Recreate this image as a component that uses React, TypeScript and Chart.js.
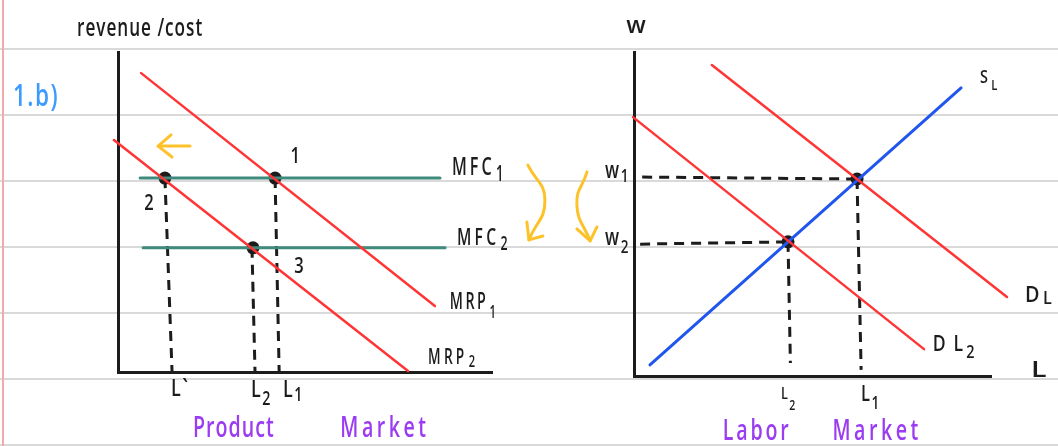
import React, { useEffect, useRef } from "react";
import { Chart, registerables } from "chart.js";

Chart.register(...registerables);

// ---------- Product market (left panel) ----------
// x: quantity of labour, y: revenue / cost
const mrp1X = [0.68, 9.32];
const mrp1Y = [9.34, 2.06];
const mrp2X = [-0.12, 8.53];
const mrp2Y = [7.25, 0.03];
const mfc1X = [0.65, 9.47];
const mfc1Y = [6.06, 6.06];
const mfc2X = [0.74, 9.62];
const mfc2Y = [3.88, 3.88];
const productPointsX = [4.62, 1.38, 3.97]; // points 1, 2, 3
const productPointsY = [6.06, 6.06, 3.88];
const lPrimeX = [1.38, 1.59];
const lPrimeY = [6.06, 0];
const l2ProductX = [3.94, 4.03];
const l2ProductY = [3.88, 0];
const l1ProductX = [4.62, 4.74];
const l1ProductY = [6.06, 0];
const shiftShaftX = [2.12, 1.18];
const shiftShaftY = [7.06, 7.06];
const shiftHeadX = [1.56, 1.18, 1.59];
const shiftHeadY = [7.41, 7.06, 6.72];

// ---------- Labour market (right panel) ----------
// x: quantity of labour, y: wage
const dlX = [2.29, 10.97];
const dlY = [9.6, 2.44];
const dl2X = [-0.03, 8.53];
const dl2Y = [7.99, 0.83];
const slX = [0.47, 9.62];
const slY = [0.34, 8.89];
const labourPointsX = [6.56, 4.53];
const labourPointsY = [6.08, 4.14];
const w1GuideX = [0.24, 6.56];
const w1GuideY = [6.14, 6.08];
const w2GuideX = [0.18, 4.53];
const w2GuideY = [4.07, 4.14];
const l2LabourX = [4.53, 4.6];
const l2LabourY = [4.14, 0.4];
const l1LabourX = [6.56, 6.68];
const l1LabourY = [6.08, 0.19];
const mfcArrowX = [-3.12, -2.62, -3.09];
const mfcArrowY = [6.51, 5.43, 4.2];
const mfcHeadX = [-2.68, -3.09, -3.15];
const mfcHeadY = [4.32, 4.2, 4.75];
const wageArrowX = [-1.38, -1.68, -1.29];
const wageArrowY = [6.3, 5.28, 4.17];
const wageHeadX = [-1.09, -1.29, -1.68];
const wageHeadY = [4.6, 4.17, 4.54];

const INK = "#1c1c1c";
const RED = "#ff3434";
const BLUE = "#2156ee";
const TEAL = "#3e8a7c";
const YELLOW = "#fdc22a";
const PURPLE = "#9b3cf3";
const NOTE_BLUE = "#3d9bff";

type Label = {
  text: string;
  sub?: string;
  x: number;
  y: number;
  size?: number;
  color?: string;
  align?: "left" | "center";
  spacing?: number;
  sx?: number;
  subDy?: number;
  weight?: number;
};

const productLabels: Label[] = [
  { text: "revenue /cost", x: 0.65, y: 10.72, size: 26, align: "center", spacing: 1.5, sx: 0.66 },
  { text: "1.b)", x: -2.41, y: 8.59, size: 30, color: NOTE_BLUE, align: "center", spacing: 2, sx: 0.75 },
  { text: "1", x: 5.21, y: 6.72, size: 22, align: "center" },
  { text: "2", x: 0.91, y: 5.25, size: 22, align: "center" },
  { text: "3", x: 5.32, y: 3.28, size: 22, align: "center" },
  { text: "MFC", sub: "1", x: 9.82, y: 6.38, size: 26, spacing: 5, sx: 0.62 },
  { text: "MFC", sub: "2", x: 9.97, y: 4.19, size: 24, spacing: 5, sx: 0.65 },
  { text: "MRP", sub: "1", x: 9.76, y: 2.16, size: 23, spacing: 4, sx: 0.62, subDy: 10 },
  { text: "MRP", sub: "2", x: 9.12, y: 0.44, size: 21, spacing: 5, sx: 0.65, subDy: 4 },
  { text: "L`", x: 1.56, y: -0.53, size: 24, spacing: 2 },
  { text: "L", sub: "2", x: 3.91, y: -0.56, size: 24, subDy: 10 },
  { text: "L", sub: "1", x: 4.85, y: -0.56, size: 24, subDy: 6 },
  { text: "Product", x: 3.41, y: -1.78, size: 28, color: PURPLE, align: "center", spacing: 1.5, sx: 0.7 },
  { text: "Market", x: 7.85, y: -1.78, size: 28, color: PURPLE, align: "center", spacing: 5, sx: 0.7 },
];

const labourLabels: Label[] = [
  { text: "w", x: 0.06, y: 10.8, size: 24, align: "center", sx: 1 },
  { text: "w", sub: "1", x: -0.85, y: 6.3, size: 23, sx: 0.75, subDy: 5 },
  { text: "w", sub: "2", x: -0.85, y: 4.26, size: 23, sx: 0.75, subDy: 10 },
  { text: "S", sub: "L", x: 10.18, y: 9.2, size: 18, spacing: 2, sx: 0.8, subDy: 8 },
  { text: "D", sub: "L", x: 11.5, y: 2.47, size: 22, spacing: 2, sx: 0.9, subDy: 3 },
  { text: "D L", sub: "2", x: 8.79, y: 0.96, size: 22, spacing: 2, sx: 0.8, subDy: 8 },
  { text: "L", x: 11.68, y: 0.15, size: 22, sx: 1.3 },
  { text: "L", sub: "2", x: 4.32, y: -0.56, size: 17, subDy: 12 },
  { text: "L", sub: "1", x: 6.68, y: -0.59, size: 22, subDy: 9 },
  { text: "Labor", x: 3.62, y: -1.73, size: 28, color: PURPLE, align: "center", spacing: 4, sx: 0.7 },
  { text: "Market", x: 7.15, y: -1.73, size: 28, color: PURPLE, align: "center", spacing: 5, sx: 0.7 },
];

const pts = (xs: number[], ys: number[]) => xs.map((x, i) => ({ x, y: ys[i] }));

const line = (xs: number[], ys: number[], color: string, width: number, extra: any = {}) => ({
  data: pts(xs, ys),
  showLine: true,
  borderColor: color,
  borderWidth: width,
  pointRadius: 0,
  clip: false,
  borderCapStyle: "round",
  ...extra,
});

const dashed = (xs: number[], ys: number[]) =>
  line(xs, ys, INK, 3, { borderDash: [10, 7], borderCapStyle: "butt" });

const dots = (xs: number[], ys: number[]) => ({
  data: pts(xs, ys),
  showLine: false,
  pointRadius: 6.5,
  pointBackgroundColor: INK,
  pointBorderWidth: 0,
  clip: false,
});

const FONT = "'Open Sans', 'DejaVu Sans', sans-serif";

const labelPlugin = (labels: Label[]) => ({
  id: "handLabels",
  afterDatasetsDraw(chart: any) {
    const ctx = chart.ctx as CanvasRenderingContext2D;
    const xs = chart.scales.x;
    const ys = chart.scales.y;
    labels.forEach((l) => {
      const size = l.size ?? 20;
      const weight = l.weight ?? 600;
      const px = xs.getPixelForValue(l.x);
      const py = ys.getPixelForValue(l.y);
      ctx.save();
      ctx.translate(px, py);
      ctx.scale(l.sx ?? 0.75, 1);
      ctx.font = `${weight} ${size}px ${FONT}`;
      (ctx as any).letterSpacing = `${l.spacing ?? 0}px`;
      ctx.fillStyle = l.color ?? INK;
      ctx.textBaseline = "middle";
      ctx.textAlign = "left";
      const w = ctx.measureText(l.text).width;
      const start = l.align === "center" ? -w / 2 : 0;
      ctx.fillText(l.text, start, 0);
      if (l.sub) {
        ctx.font = `${weight} ${Math.round(size * 0.8)}px ${FONT}`;
        ctx.fillText(l.sub, start + w + 2, l.subDy ?? 7);
      }
      ctx.restore();
    });
  },
});

const axisScales = (xMax: number, yMax: number) => ({
  x: {
    type: "linear",
    min: 0,
    max: xMax,
    grid: { display: false, drawTicks: false },
    ticks: { display: false },
    border: { display: true, color: INK, width: 3 },
  },
  y: {
    type: "linear",
    min: 0,
    max: yMax,
    grid: { display: false, drawTicks: false },
    ticks: { display: false },
    border: { display: true, color: INK, width: 3 },
  },
});

const baseOptions = (padding: any, xMax: number, yMax: number) => ({
  animation: false,
  responsive: false,
  maintainAspectRatio: false,
  events: [],
  layout: { padding },
  plugins: { legend: { display: false }, tooltip: { enabled: false } },
  scales: axisScales(xMax, yMax),
});

export default function App() {
  const leftRef = useRef<HTMLCanvasElement>(null);
  const rightRef = useRef<HTMLCanvasElement>(null);

  useEffect(() => {
    const left = new Chart(leftRef.current as HTMLCanvasElement, {
      type: "scatter",
      data: {
        datasets: [
          line(mrp1X, mrp1Y, RED, 2.5),
          line(mrp2X, mrp2Y, RED, 2.5),
          line(mfc1X, mfc1Y, TEAL, 3),
          line(mfc2X, mfc2Y, TEAL, 3),
          dashed(lPrimeX, lPrimeY),
          dashed(l2ProductX, l2ProductY),
          dashed(l1ProductX, l1ProductY),
          line(shiftShaftX, shiftShaftY, YELLOW, 3),
          line(shiftHeadX, shiftHeadY, YELLOW, 3, { borderJoinStyle: "round" }),
          dots(productPointsX, productPointsY),
        ] as any,
      },
      options: baseOptions({ left: 118, top: 52, right: 566, bottom: 74 }, 11, 10) as any,
      plugins: [labelPlugin(productLabels)],
    });

    const right = new Chart(rightRef.current as HTMLCanvasElement, {
      type: "scatter",
      data: {
        datasets: [
          line(dlX, dlY, RED, 2.5),
          line(dl2X, dl2Y, RED, 2.5),
          line(slX, slY, BLUE, 3),
          dashed(w1GuideX, w1GuideY),
          dashed(w2GuideX, w2GuideY),
          dashed(l2LabourX, l2LabourY),
          dashed(l1LabourX, l1LabourY),
          line(mfcArrowX, mfcArrowY, YELLOW, 3, { tension: 0.5 }),
          line(mfcHeadX, mfcHeadY, YELLOW, 3, { borderJoinStyle: "round" }),
          line(wageArrowX, wageArrowY, YELLOW, 3, { tension: 0.5 }),
          line(wageHeadX, wageHeadY, YELLOW, 3, { borderJoinStyle: "round" }),
          dots(labourPointsX, labourPointsY),
        ] as any,
      },
      options: baseOptions({ left: 634, top: 52, right: 67, bottom: 70 }, 10.5, 10) as any,
      plugins: [labelPlugin(labourLabels)],
    });

    return () => {
      left.destroy();
      right.destroy();
    };
  }, []);

  return (
    <div
      style={{
        position: "fixed",
        left: 0,
        top: 0,
        width: 1058,
        height: 446,
        overflow: "hidden",
        backgroundColor: "#ffffff",
        backgroundImage:
          "linear-gradient(90deg, transparent 2px, #f5a8a8 2px, #f5a8a8 4px, transparent 4px), linear-gradient(180deg, #d9d9d9 0px, #d9d9d9 2px, transparent 2px)",
        backgroundSize: "100% 100%, 100% 66px",
        backgroundPosition: "0 0, 0 48px",
        backgroundRepeat: "no-repeat, repeat",
      }}
    >
      <canvas ref={leftRef} width={1058} height={446} style={{ position: "absolute", left: 0, top: 0 }} />
      <canvas ref={rightRef} width={1058} height={446} style={{ position: "absolute", left: 0, top: 0 }} />
    </div>
  );
}
